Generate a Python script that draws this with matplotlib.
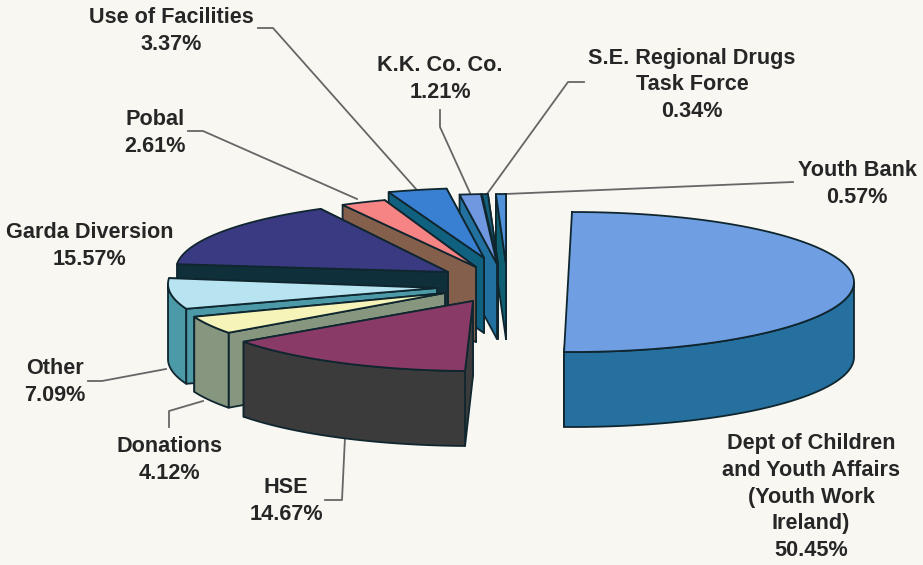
import numpy as np
import matplotlib
matplotlib.use("Agg")
import matplotlib.pyplot as plt
from matplotlib.patches import Polygon

# share of funding, clockwise from the top of the pie
names = ["Dept of Children\nand Youth Affairs\n(Youth Work\nIreland)", "HSE", "Donations", "Other",
         "Garda Diversion", "Pobal", "Use of Facilities", "K.K. Co. Co.",
         "S.E. Regional Drugs\nTask Force", "Youth Bank"]
values = [50.45, 14.67, 4.12, 7.09, 15.57, 2.61, 3.37, 1.21, 0.34, 0.57]

top_colors = ["#6f9fe2", "#8a3a66", "#f6f4b8", "#b8e4f2", "#3a3a82",
              "#f78484", "#3a80d2", "#6f98e0", "#14607c", "#4f92da"]
side_colors = ["#26709f", "#3b3b3b", "#87977f", "#4c9aa8", "#0f2f3a",
               "#84604c", "#10607f", "#22709f", "#0f5a70", "#0f5f72"]

# pie geometry in pixels
cx, cy = 458, 280
rx, ry = 282, 70
depth = 75
# how far each slice is pulled away from the pie centre
explode = [(114, 2), (15, 21), (0, 12), (-8, 4), (0, -10),
           (22, -14), (26, -22), (39, -16), (40, -16), (48, -16)]
# the inner tips sit a little off the true centre in the drawing
tip_shift = [(0, 0), (0, 0), (-13, 1), (-13, 4), (-10, 2),
             (-4, 1), (0, 0), (0, 0), (0, 0), (0, 0)]

# label text position (x, y of the middle of the block)
label_pos = [(811, 497), (286, 501), (169, 460), (55, 382), (90, 246),
             (155, 133), (171, 31), (440, 79), (692, 85), (857, 184)]

# leader lines
leaders = [[(258, 28), (273, 28), (416, 189)],
           [(188, 131), (203, 131), (357, 199)],
           [(440, 110), (440, 127), (470, 193)],
           [(584, 82), (568, 82), (487, 194)],
           [(793, 182), (505, 194)],
           [(88, 381), (102, 381), (166, 369)],
           [(169, 427), (169, 411), (203, 401)],
           [(325, 500), (342, 500), (345, 437)]]

BG = "#f8f7f2"
EDGE = "#10262f"


def pt(ang, x0, y0):
    a = np.radians(ang)
    return x0 + rx * np.sin(a), y0 - ry * np.cos(a)


fig = plt.figure(figsize=(9.23, 5.65), dpi=100, facecolor=BG)
ax = fig.add_axes([0, 0, 1, 1])
ax.set_xlim(0, 923)
ax.set_ylim(565, 0)
ax.axis("off")

edges = np.concatenate([[0], np.cumsum(values)]) / sum(values) * 360

for line in leaders:
    xs, ys = zip(*line)
    ax.plot(xs, ys, color="#666666", lw=1.3, zorder=1)

# back slices first, going round from the top to the front
order = [9, 8, 7, 6, 5, 4, 3, 2, 1, 0]
z = 2
for i in order:
    a0, a1 = edges[i], edges[i + 1]
    x0, y0 = cx + explode[i][0], cy + explode[i][1]
    tx, ty = x0 + tip_shift[i][0], y0 + tip_shift[i][1]
    arc = [pt(a, x0, y0) for a in np.linspace(a0, a1, 80)]

    faces = []
    for a in (a0, a1):
        px, py = pt(a, x0, y0)
        faces.append([(tx, ty), (px, py), (px, py + depth), (tx, ty + depth)])
    # outer wall only where it faces the viewer
    lo, hi = max(a0, 90), min(a1, 270)
    if lo < hi:
        front = [pt(a, x0, y0) for a in np.linspace(lo, hi, 80)]
        faces.append(front + [(x, y + depth) for x, y in front[::-1]])
    faces.sort(key=lambda f: np.mean([p[1] for p in f]))

    for f in faces:
        ax.add_patch(Polygon(f, closed=True, fc=side_colors[i], ec=EDGE, lw=1.3, joinstyle="round", zorder=z))
        z += 1
    # the half-pie slice has a straight cut, no corner at the centre
    top = arc if a1 - a0 >= 180 else [(tx, ty)] + arc
    ax.add_patch(Polygon(top, closed=True, fc=top_colors[i], ec=EDGE, lw=1.3, joinstyle="round", zorder=z))
    z += 1

for i, name in enumerate(names):
    ax.text(label_pos[i][0], label_pos[i][1], "%s\n%.2f%%" % (name, values[i]), ha="center", va="center",
            family=["Liberation Sans"], fontweight="bold", fontsize=15.6, color="#262626",
            linespacing=1.37, zorder=z + 1)

fig.savefig("out.png", dpi=100, facecolor=BG)
